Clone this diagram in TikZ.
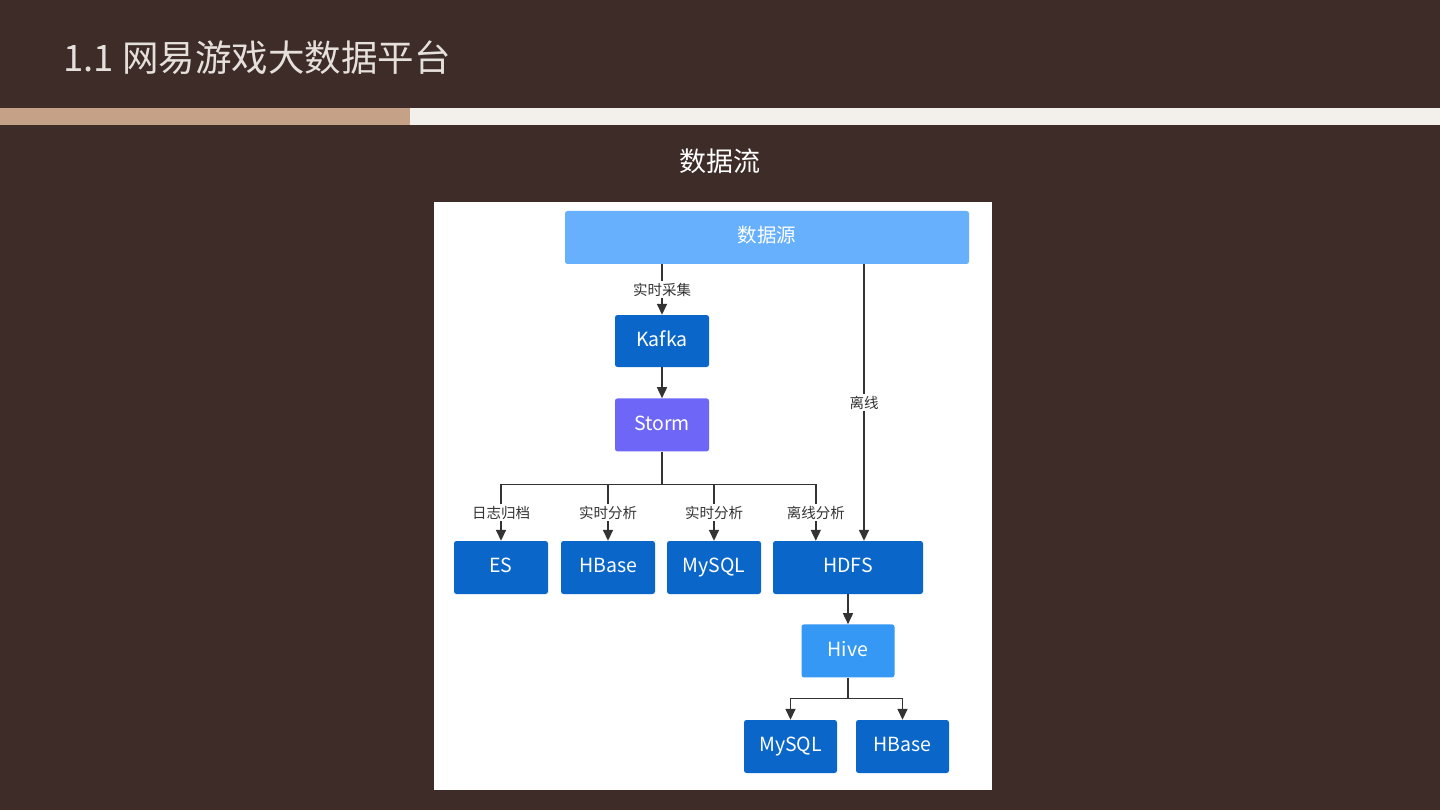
\documentclass[tikz,border=0pt]{standalone}
\usepackage{fontspec}
\usepackage{xcolor}
\usepackage{tikz}
\usetikzlibrary{arrows.meta, positioning, calc}
\setmainfont{Noto Sans CJK SC}
\newfontfamily\cjk{Noto Sans CJK SC}

\definecolor{slidebg}{HTML}{3D2C27}
\definecolor{tanbar}{HTML}{C4A187}
\definecolor{lightbar}{HTML}{F3F0EC}
\definecolor{titlegray}{HTML}{E6E0DC}
\definecolor{srcblue}{HTML}{66B0FD}
\definecolor{darkblue}{HTML}{0B66C9}
\definecolor{stormviolet}{HTML}{6D66F6}
\definecolor{hiveblue}{HTML}{3498F4}
\definecolor{linegray}{HTML}{333333}

\begin{document}
\begin{tikzpicture}[
    x=1pt, y=-1pt,
    box/.style={
        rectangle,
        rounded corners=2.5pt,
        minimum height=53pt,
        text=white,
        text height=1.02em,
        text depth=0pt,
        align=center,
        font=\cjk\fontsize{19.5}{21}\selectfont
    },
    flowlabel/.style={
        fill=white,
        inner sep=2pt,
        text=black!80,
        font=\cjk\fontsize{14.5}{16}\selectfont
    },
    arrow/.style={-{Triangle[length=11pt, width=10pt]}, line width=1.6pt, draw=linegray, color=linegray},
    line/.style={line width=1.6pt, draw=linegray}
]

% slide background
\fill[slidebg] (0,0) rectangle (1440,810);
\useasboundingbox (0,0) rectangle (1440,810);
\fill[tanbar] (0,108) rectangle (410,125);
\fill[lightbar] (410,108) rectangle (1440,125);

\node[anchor=west, text=titlegray, font=\cjk\fontsize{36.5}{40}\selectfont, inner sep=0pt]
    (title) at (63,58) {1.1 网易游戏大数据平台};
\node[text=white, font=\cjk\fontsize{27}{30}\selectfont, inner sep=0pt]
    (subtitle) at (720,161) {数据流};

% white panel
\fill[white] (434,202) rectangle (992,790);

\node[box, fill=srcblue, minimum width=404pt] (src) at (767,237.5) {数据源};
\node[box, fill=darkblue, minimum width=94pt, minimum height=52pt] (kafka) at (662,341) {Kafka};
\node[box, fill=stormviolet, minimum width=94pt, below=31pt of kafka] (storm) {Storm};

\node[box, fill=darkblue, minimum width=94pt] (es) at (501,567.5) {ES};
\node[box, fill=darkblue, minimum width=94pt] (hbase) at (608,567.5) {HBase};
\node[box, fill=darkblue, minimum width=94pt] (mysql) at (714,567.5) {MySQL};
\node[box, fill=darkblue, minimum width=150pt] (hdfs) at (848,567.5) {HDFS};

\node[box, fill=hiveblue, minimum width=93pt, below=30pt of hdfs] (hive) {Hive};
\node[box, fill=darkblue, minimum width=93pt] (mysqlb) at (790.5,746.5) {MySQL};
\node[box, fill=darkblue, minimum width=93pt] (hbaseb) at (902.5,746.5) {HBase};

\coordinate (split) at ($(storm.south)+(0,33)$);
\coordinate (hdfsin) at ($(hdfs.north west)+(43,0)$);
\coordinate (offline) at (864,0);
\coordinate (hivesplit) at ($(hive.south)+(0,21)$);

% real-time path
\draw[arrow] (src.south -| kafka) -- node[flowlabel, pos=0.5] {实时采集} (kafka);
\draw[arrow] (kafka) -- (storm);
\draw[line] (storm.south) -- (split);
\draw[arrow] (split) -| node[flowlabel, pos=0.75] {日志归档} (es);
\draw[arrow] (split) -| node[flowlabel, pos=0.75] {实时分析} (hbase);
\draw[arrow] (split) -| node[flowlabel, pos=0.75] {实时分析} (mysql);
\draw[arrow] (split) -| node[flowlabel, pos=0.75] {离线分析} (hdfsin);

% offline path
\draw[arrow] (src.south -| offline) -- node[flowlabel, pos=0.5] {离线} (hdfs.north -| offline);
\draw[arrow] (hdfs) -- (hive);
\draw[line] (hive.south) -- (hivesplit);
\draw[arrow] (hivesplit) -| (mysqlb);
\draw[arrow] (hivesplit) -| (hbaseb);

\end{tikzpicture}
\end{document}
